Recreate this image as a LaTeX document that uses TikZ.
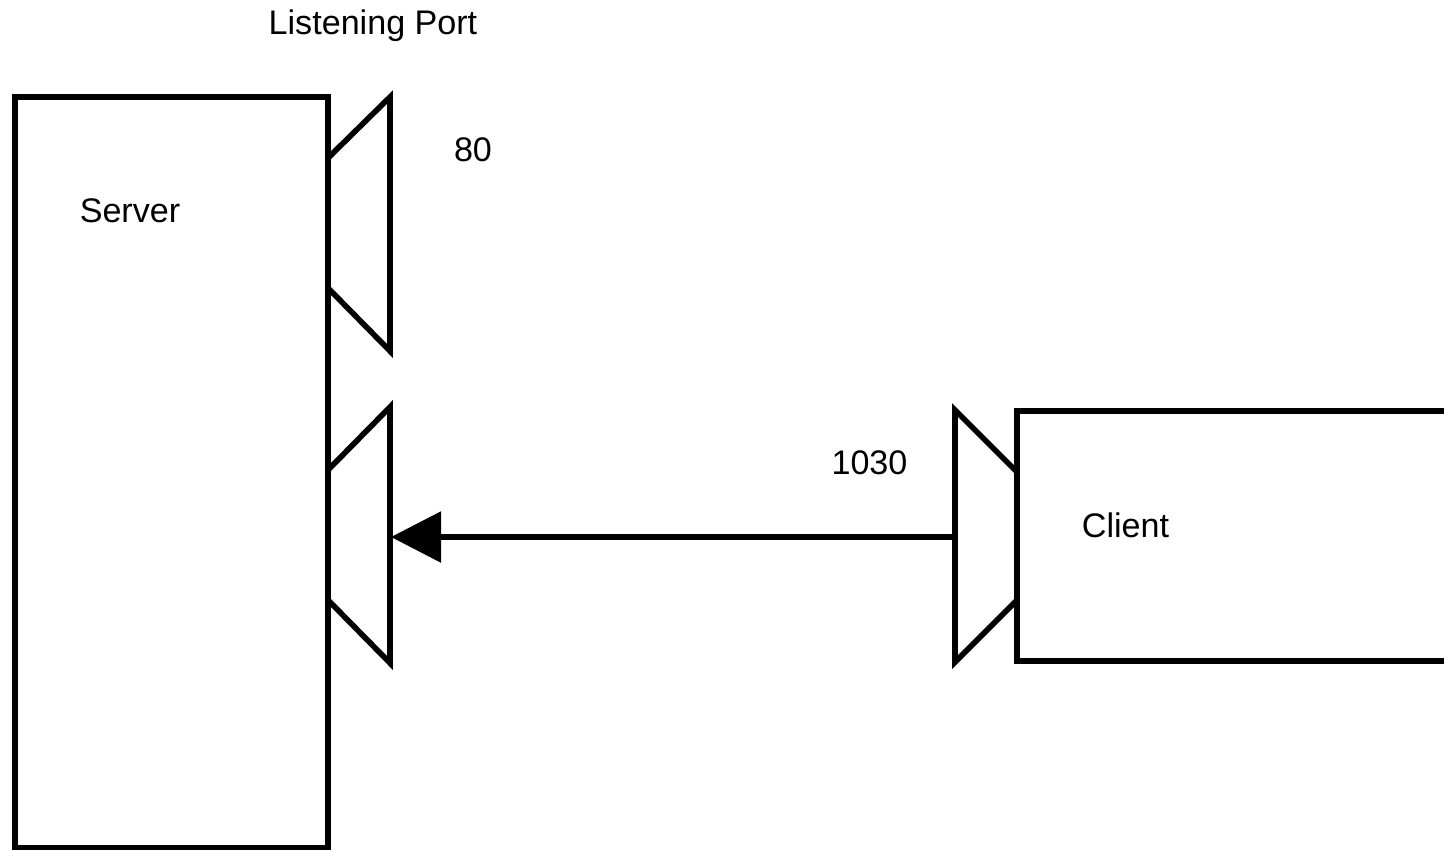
\documentclass[tikz,border=0pt]{standalone}
\usepackage{fontspec}
\setmainfont{Liberation Sans}
\usetikzlibrary{arrows.meta}

\tikzset{
	box/.style={draw, line width=1.6pt, rectangle, anchor=north west, inner sep=0pt, outer sep=0pt},
	port/.style={line width=1.6pt, line join=miter},
	lbl/.style={anchor=base, inner sep=0pt, font=\fontsize{9.7}{11.6}\selectfont},
	conn/.style={line width=1.6pt, -{Triangle[length=0.5cm, width=0.5cm]}}
}

\begin{document}
\begin{tikzpicture}[x=0.01cm, y=-0.01cm]
		\useasboundingbox (0,0) rectangle (1444,850);
		\clip (0,0) rectangle (1444,850);
		\node [box, minimum width=3.13cm, minimum height=7.5cm] (server) at (15,97) {}; % server
		\node [box, minimum width=5cm, minimum height=2.5cm] (client) at (1017,411) {}; % client
		\draw [port] (328,158) -- (390,97) -- (390,351) -- (328,288); % listening port
		\draw [port] (328,470) -- (390,407) -- (390,663) -- (328,600); % server side
		\draw [port] (1017,472) -- (955,410) -- (955,662) -- (1017,600); % client side
		\coordinate (inport) at (391,537);
		\coordinate (outport) at (955,537);
		\draw [conn] (outport) to (inport);
		\node [lbl] (listen) at (373,34) {Listening Port};
		\node [lbl] (p80) at (473,161) {80};
		\node [lbl] (srvtext) at (130,222) {Server};
		\node [lbl] (p1030) at (869.5,474) {1030};
		\node [lbl] (clitext) at (1125.5,537) {Client};
		\end{tikzpicture}
\end{document}
